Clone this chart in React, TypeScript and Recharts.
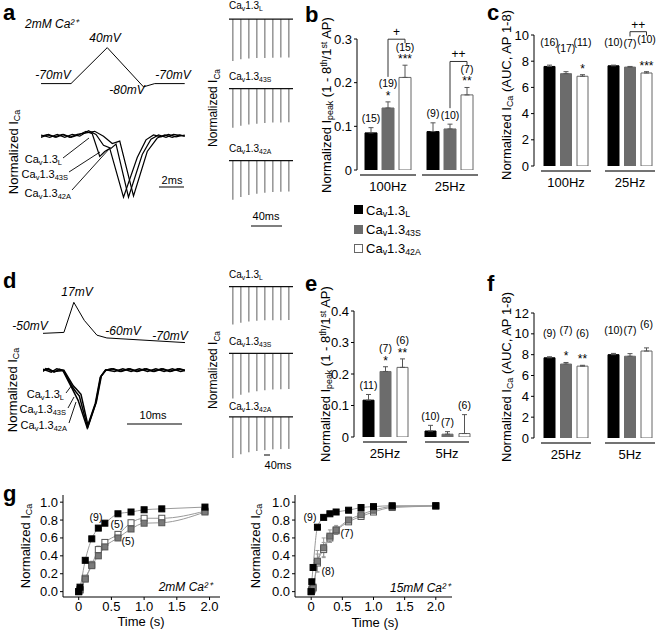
import React from 'react';
import {
  BarChart,
  Bar,
  XAxis,
  YAxis,
  ErrorBar,
  LabelList,
  LineChart,
  Line,
  ReferenceLine,
} from 'recharts';

const FONT = '"Liberation Sans", Arial, Helvetica, sans-serif';

// ---------- b: 1 - 8th/1st AP peak, 2 mM Ca ----------
const bGroups = ['100Hz', '25Hz'];
const bL = [0.085, 0.088];
const b43S = [0.142, 0.094];
const b42A = [0.212, 0.172];
const bErrL = [0.012, 0.02];
const bErr43S = [0.014, 0.011];
const bErr42A = [0.028, 0.017];
const bCounts = [['(15)', '(19)', '(15)'], ['(9)', '(10)', '(7)']];
const bStars = [['', '*', '***'], ['', '', '**']];
const bSig = ['+', '++'];

// ---------- c: AUC of AP 1-8, 2 mM Ca ----------
const cL = [7.6, 7.65];
const c43S = [7.05, 7.55];
const c42A = [6.85, 7.1];
const cErrL = [0.1, 0.05];
const cErr43S = [0.15, 0.05];
const cErr42A = [0.12, 0.1];
const cCounts = [['(16)', '(17)', '(11)'], ['(10)', '(7)', '(10)']];
const cStars = [['', '', '*'], ['', '', '***']];
const cSig = ['', '++'];

// ---------- e: 1 - 8th/1st AP peak, 15 mM Ca ----------
const eGroups = ['25Hz', '5Hz'];
const eL = [0.117, 0.019];
const e43S = [0.208, 0.009];
const e42A = [0.221, 0.011];
const eErrL = [0.018, 0.018];
const eErr43S = [0.015, 0.008];
const eErr42A = [0.027, 0.06];
const eCounts = [['(11)', '(7)', '(6)'], ['(10)', '(7)', '(6)']];
const eStars = [['', '*', '**'], ['', '', '']];
const eSig = ['', ''];

// ---------- f: AUC of AP 1-8, 15 mM Ca ----------
const fL = [7.7, 8.0];
const f43S = [7.1, 7.85];
const f42A = [6.9, 8.35];
const fErrL = [0.1, 0.12];
const fErr43S = [0.15, 0.25];
const fErr42A = [0.08, 0.3];
const fCounts = [['(9)', '(7)', '(6)'], ['(10)', '(7)', '(6)']];
const fStars = [['', '*', '**'], ['', '', '']];
const fSig = ['', ''];

// ---------- g: recovery time course ----------
const g2Time = [0, 0.02, 0.1, 0.2, 0.3, 0.4, 0.6, 0.8, 1.0, 1.27, 1.93];
const g2L = [0, 0.05, 0.35, 0.59, 0.71, 0.765, 0.87, 0.89, 0.915, 0.925, 0.945];
const g243S = [0, 0.02, 0.14, 0.29, 0.4, 0.5, 0.6, 0.7, 0.765, 0.77, 0.89];
const g242A = [0, 0.02, 0.15, 0.3, 0.47, 0.55, 0.64, 0.77, 0.82, 0.82, 0.9];
const g2ErrL = [0, 0, 0.01, 0.01, 0.01, 0.01, 0.01, 0.01, 0.01, 0.01, 0.01];
const g2Err43S = [0, 0, 0.02, 0.03, 0.03, 0.03, 0.03, 0.02, 0.02, 0.02, 0.01];
const g2Err42A = [0, 0, 0.02, 0.04, 0.04, 0.03, 0.03, 0.03, 0.02, 0.02, 0.01];

const g15Time = [0, 0.01, 0.03, 0.1, 0.2, 0.3, 0.4, 0.6, 0.8, 1.0, 1.3, 2.0];
const g15L = [0, 0.11, 0.27, 0.72, 0.83, 0.87, 0.89, 0.91, 0.94, 0.95, 0.96, 0.96];
const g1543S = [0, 0.02, 0.05, 0.34, 0.49, 0.62, 0.69, 0.8, 0.86, 0.91, 0.95, 0.96];
const g1542A = [0, 0.02, 0.04, 0.32, 0.47, 0.6, 0.68, 0.78, 0.84, 0.89, 0.94, 0.955];
const g15ErrL = [0, 0.01, 0.02, 0.02, 0.01, 0.01, 0.01, 0.01, 0.01, 0.01, 0.01, 0.01];
const g15Err43S = [0, 0.01, 0.02, 0.12, 0.11, 0.07, 0.05, 0.03, 0.02, 0.02, 0.01, 0.01];
const g15Err42A = [0, 0.01, 0.02, 0.1, 0.08, 0.05, 0.04, 0.03, 0.02, 0.02, 0.01, 0.01];
const gYTicks = [0, 0.2, 0.4, 0.6, 0.8, 1.0];
const gXTicks = [0, 0.5, 1, 1.5, 2];

// ---------- AP trains (peak of each AP, normalized to the 1st) ----------
const trainAP = ['1', '2', '3', '4', '5', '6', '7', '8'];
const train100L = [-1, -0.96, -0.94, -0.93, -0.925, -0.92, -0.915, -0.915];
const train10043S = [-1, -0.95, -0.92, -0.9, -0.88, -0.87, -0.865, -0.86];
const train10042A = [-1, -0.93, -0.88, -0.85, -0.82, -0.8, -0.795, -0.79];
const train25L = [-1, -0.95, -0.92, -0.9, -0.89, -0.885, -0.885, -0.88];
const train2543S = [-1, -0.92, -0.87, -0.84, -0.82, -0.8, -0.795, -0.79];
const train2542A = [-1, -0.91, -0.86, -0.83, -0.81, -0.79, -0.785, -0.78];

// ---------- voltage protocols (ms, mV) ----------
const aProtoT = [0, 2.4, 5.3, 8.2, 9.1, 11.5];
const aProtoV = [-70, -70, 40, -80, -70, -70];
const dProtoT = [0, 3.8, 5.6, 7.5, 9.8, 11.6, 25.8];
const dProtoV = [-50, -48, 17, -22, -54, -60, -70];

// ---------- single AP currents (ms, normalized) ----------
const aTraceLT = [0, 0.6, 1.2, 1.8, 2.4, 3.0, 3.6, 4.1, 4.7, 5.1, 5.5, 6.6, 7.7, 8.4, 9.0, 9.6, 10.2, 10.8, 11.5];
const aTraceLV = [0, 0.03, -0.02, 0.03, -0.02, 0.02, 0.08, 0.04, -0.33, -0.25, -0.2, -1.0, -0.35, -0.06, 0.02, -0.01, 0.03, -0.01, 0.02];
const aTrace43ST = [0, 0.7, 1.3, 1.9, 2.5, 3.1, 3.8, 4.4, 5.0, 5.6, 6.0, 7.0, 8.1, 8.8, 9.4, 10.0, 10.6, 11.5];
const aTrace43SV = [0.02, -0.02, 0.03, -0.02, 0.03, 0, 0.09, 0.03, -0.15, -0.2, -0.13, -1.0, -0.3, -0.05, 0.02, -0.02, 0.03, 0];
const aTrace42AT = [0, 0.5, 1.1, 1.7, 2.3, 2.9, 3.5, 4.3, 5.0, 5.7, 6.3, 7.4, 8.5, 9.3, 9.9, 10.5, 11.1, 11.5];
const aTrace42AV = [-0.02, 0.02, -0.01, 0.03, -0.02, 0.03, 0.05, 0.08, 0, -0.12, -0.08, -0.98, -0.25, -0.03, 0.02, -0.02, 0.02, 0];

const dTraceLT = [0, 1, 2, 3, 3.6, 5.3, 6.4, 8.0, 9.5, 10.4, 11.3, 12.5, 14, 15.5, 17, 18.5, 20, 21.5, 23, 24.5, 25.8];
const dTraceLV = [0, 0.03, -0.03, 0.02, 0, -0.32, -0.53, -1.0, -0.58, -0.12, 0, 0.03, -0.02, 0.03, -0.02, 0.03, -0.02, 0.03, -0.02, 0.03, 0];
const dTrace43ST = [0, 1.5, 2.5, 3.7, 5.4, 6.0, 6.6, 8.1, 9.6, 10.5, 11.4, 13, 14.5, 16, 17.5, 19, 20.5, 22, 23.5, 25, 25.8];
const dTrace43SV = [0.02, -0.03, 0.03, 0, -0.3, -0.38, -0.45, -1.0, -0.57, -0.11, 0.01, -0.02, 0.03, -0.02, 0.03, -0.02, 0.03, -0.02, 0.03, -0.02, 0];
const dTrace42AT = [0, 0.5, 2, 3.8, 5.5, 6.1, 6.9, 8.2, 9.7, 10.6, 11.5, 12.8, 14.2, 15.8, 17.2, 18.8, 20.2, 21.8, 23.2, 24.8, 25.8];
const dTrace42AV = [-0.02, 0.03, -0.02, 0, -0.27, -0.33, -0.42, -0.98, -0.55, -0.1, 0.01, 0.03, -0.02, 0.03, -0.02, 0.03, -0.02, 0.03, -0.02, 0.03, 0];

const pts = (t: number[], v: number[], e?: number[]) =>
  t.map((x, i) => ({ t: x, v: v[i], e: e ? e[i] : 0 }));

const FILLS = ['#000', '#6c6c6c', '#fff'];
const KEYS = ['L', 'S', 'A'];

function Sub({ children }: { children: React.ReactNode }) {
  return <span style={{ fontSize: '0.68em', verticalAlign: '-0.3em', lineHeight: 0 }}>{children}</span>;
}
function Sup({ children }: { children: React.ReactNode }) {
  return <span style={{ fontSize: '0.68em', verticalAlign: '0.45em', lineHeight: 0 }}>{children}</span>;
}
function Cav({ v }: { v: string }) {
  return (
    <>
      Ca<Sub>v</Sub>1.3<Sub>{v}</Sub>
    </>
  );
}

function T({ x, y, s = 12, i, b, a = 'l', children }: any) {
  const tx = a === 'c' ? '-50%' : a === 'r' ? '-100%' : '0';
  return (
    <div
      style={{
        position: 'absolute', left: x, top: y, transform: `translate(${tx},-50%)`,
        fontSize: s, fontStyle: i ? 'italic' : 'normal', fontWeight: b ? 'bold' : 'normal',
        whiteSpace: 'nowrap', lineHeight: 1.15,
      }}
    >
      {children}
    </div>
  );
}

function VT({ x, y, s = 13, children }: any) {
  return (
    <div
      style={{
        position: 'absolute', left: x, top: y, transform: 'translate(-50%,-50%) rotate(-90deg)',
        fontSize: s, whiteSpace: 'nowrap', lineHeight: 1.15,
      }}
    >
      {children}
    </div>
  );
}

function BarPanel(p: any) {
  const rows = p.groups.map((g: string, i: number) => ({
    g, i,
    L: p.vals[0][i], S: p.vals[1][i], A: p.vals[2][i],
    eL: [0, p.errs[0][i]], eS: [0, p.errs[1][i]], eA: [0, p.errs[2][i]],
  }));
  const step = p.barSize + p.gap;
  const lift = p.lift || 0;

  const anno = (k: number) => (props: any) => {
    const vb = props.viewBox || props;
    const i = props.value;
    const v = p.vals[k][i];
    if (!vb || vb.height == null || !v) return null;
    const ppu = vb.height / v;
    const cx = vb.x + vb.width / 2;
    const top = vb.y - p.errs[k][i] * ppu;
    const star = p.stars[i][k];
    const countC = (star ? top - 18 : top - 9) - lift;
    const out: any[] = [];
    if (star) {
      out.push(<text key="s" x={cx} y={top - 2} textAnchor="middle" fontSize={12} fontFamily={FONT}>{star}</text>);
    }
    out.push(
      <text key="n" x={cx} y={countC + 3.5} textAnchor="middle" fontSize={10.5} fontFamily={FONT}>
        {p.counts[i][k]}
      </text>,
    );
    if (k === 2 && p.sig[i]) {
      const base = vb.y + vb.height;
      const gTop = base - (p.vals[1][i] + p.errs[1][i]) * ppu;
      const gCount = gTop - (p.stars[i][1] ? 18 : 9) - lift;
      const gx = cx - step;
      const by = countC - 8;
      out.push(
        <path key="b" d={`M${gx},${gCount - 7} V${by} H${cx} V${by + 4}`} fill="none" stroke="#333" strokeWidth={1} />,
      );
      out.push(
        <text key="p" x={(gx + cx) / 2} y={by - 3} textAnchor="middle" fontSize={12} fontFamily={FONT}>
          {p.sig[i]}
        </text>,
      );
    }
    return <g>{out}</g>;
  };

  const groupTick = (props: any) => {
    const { x, y, payload } = props;
    return (
      <g>
        <line x1={x - p.half} x2={x + p.half} y1={y + 5} y2={y + 5} stroke="#444" strokeWidth={1.3} />
        <text x={x} y={y + 20.5} textAnchor="middle" fontSize={13} fontFamily={FONT} fill="#000">
          {payload.value}
        </text>
      </g>
    );
  };

  return (
    <div style={{ position: 'absolute', left: p.left, top: p.top }}>
      <BarChart
        width={p.width}
        height={p.height}
        data={rows}
        margin={{ top: p.mTop, right: p.width - p.yW - p.plotW, left: 0, bottom: 0 }}
        barGap={p.gap}
        barCategoryGap={0}
      >
        <XAxis
          dataKey="g"
          axisLine={false}
          tickLine={false}
          tickSize={0}
          tickMargin={0}
          height={24}
          interval={0}
          tick={groupTick}
        />
        <YAxis
          width={p.yW}
          domain={p.domain}
          ticks={p.ticks}
          interval={0}
          allowDataOverflow
          tickFormatter={p.fmt}
          axisLine={{ stroke: '#000' }}
          tickLine={{ stroke: '#000' }}
          tickSize={3}
          tick={{ fontSize: 13, fill: '#000', fontFamily: FONT }}
        />
        {KEYS.map((key, k) => (
          <Bar
            key={key}
            dataKey={key}
            barSize={p.barSize}
            fill={FILLS[k]}
            stroke={k === 2 ? '#666' : FILLS[k]}
            strokeWidth={1}
            isAnimationActive={false}
          >
            <ErrorBar dataKey={`e${key}`} width={2.5} stroke="#555" strokeWidth={1} direction="y" />
            <LabelList dataKey="i" content={anno(k)} />
          </Bar>
        ))}
      </BarChart>
    </div>
  );
}

function Train({ base, peak, vals }: any) {
  const ppu = peak - base;
  const lo = -1.05;
  const hi = 0.12;
  const rows = trainAP.map((ap, i) => ({ ap, v: vals[i] }));
  return (
    <div style={{ position: 'absolute', left: 229, top: base - hi * ppu }}>
      <BarChart width={64} height={(hi - lo) * ppu} data={rows} margin={{ top: 0, right: 0, left: 0, bottom: 0 }}>
        <XAxis dataKey="ap" hide />
        <YAxis hide domain={[lo, hi]} allowDataOverflow />
        <ReferenceLine y={0} stroke="#111" strokeWidth={1.3} />
        <Bar dataKey="v" barSize={1.6} fill="#9a9a9a" isAnimationActive={false} />
      </BarChart>
    </div>
  );
}

function Traces({ left, width, zeroY, ppu, domX, domY, series, sw = 1 }: any) {
  const h = (domY[1] - domY[0]) * ppu;
  return (
    <div style={{ position: 'absolute', left, top: zeroY - domY[1] * ppu }}>
      <LineChart width={width} height={h} margin={{ top: 0, right: 0, left: 0, bottom: 0 }}>
        <XAxis type="number" dataKey="t" domain={domX} hide allowDataOverflow />
        <YAxis type="number" domain={domY} hide allowDataOverflow />
        {series.map((s: any, i: number) => (
          <Line
            key={i}
            data={s}
            dataKey="v"
            type="linear"
            stroke="#000"
            strokeWidth={sw}
            dot={false}
            isAnimationActive={false}
          />
        ))}
      </LineChart>
    </div>
  );
}

const sq = (fill: string, stroke: string) => (props: any) => {
  const { cx, cy, index } = props;
  if (cx == null || cy == null) return <g key={`d${index}`} />;
  return (
    <rect key={`d${index}`} x={cx - 3} y={cy - 3} width={6} height={6} fill={fill} stroke={stroke} strokeWidth={1} />
  );
};

const yTick = (props: any) => (
  <text x={props.x} y={props.y} dy={4.5} textAnchor="end" fontSize={13} fontFamily={FONT} fill="#000">
    {Number(props.payload.value).toFixed(1)}
  </text>
);

function TimePanel({ left, domX, sets }: any) {
  const plotW = 157;
  return (
    <div style={{ position: 'absolute', left, top: 485 }}>
      <LineChart width={63 + plotW + 5} height={145} margin={{ top: 10, right: 5, left: 0, bottom: 0 }}>
        <XAxis
          type="number"
          dataKey="t"
          domain={domX}
          allowDataOverflow
          ticks={gXTicks}
          interval={0}
          tickFormatter={(v: number) => (v === 0 ? '0' : v.toFixed(1))}
          height={33}
          axisLine={{ stroke: '#000' }}
          tickLine={{ stroke: '#000' }}
          tickSize={3}
          tick={{ fontSize: 13, fill: '#000', fontFamily: FONT }}
        />
        <YAxis
          type="number"
          width={63}
          domain={[-0.06, 1.08]}
          ticks={gYTicks}
          interval={0}
          minTickGap={0}
          axisLine={{ stroke: '#000' }}
          tickLine={{ stroke: '#000' }}
          tickSize={3}
          tick={yTick}
        />
        {sets.map((s: any, i: number) => (
          <Line
            key={i}
            data={s.data}
            dataKey="v"
            type="monotone"
            stroke="#9a9a9a"
            strokeWidth={1}
            dot={sq(s.fill, s.stroke)}
            isAnimationActive={false}
          >
            <ErrorBar dataKey="e" width={2} stroke="#9a9a9a" strokeWidth={1} direction="y" />
          </Line>
        ))}
      </LineChart>
    </div>
  );
}

export default function App() {
  const g2 = [
    { data: pts(g2Time, g242A, g2Err42A), fill: '#fff', stroke: '#555' },
    { data: pts(g2Time, g243S, g2Err43S), fill: '#7a7a7a', stroke: '#555' },
    { data: pts(g2Time, g2L, g2ErrL), fill: '#000', stroke: '#000' },
  ];
  const g15 = [
    { data: pts(g15Time, g1542A, g15Err42A), fill: '#fff', stroke: '#555' },
    { data: pts(g15Time, g1543S, g15Err43S), fill: '#7a7a7a', stroke: '#555' },
    { data: pts(g15Time, g15L, g15ErrL), fill: '#000', stroke: '#000' },
  ];

  return (
    <div
      style={{
        position: 'fixed', left: 0, top: 0, width: 656, height: 630, overflow: 'hidden',
        background: '#fff', fontFamily: FONT, color: '#000',
      }}
    >
      {/* a: protocol + currents */}
      <Traces left={41} width={144} zeroY={84 - 70 * 0.327} ppu={0.327} domX={[0, 11.52]} domY={[-85, 45]}
        series={[pts(aProtoT, aProtoV)]} />
      <Traces left={41} width={144} zeroY={136} ppu={61} domX={[0, 11.52]} domY={[-1.1, 0.2]} sw={1.2}
        series={[pts(aTraceLT, aTraceLV), pts(aTrace43ST, aTrace43SV), pts(aTrace42AT, aTrace42AV)]} />
      <Train base={19} peak={61} vals={train100L} />
      <Train base={89} peak={128} vals={train10043S} />
      <Train base={161} peak={200} vals={train10042A} />

      {/* d: protocol + currents */}
      <Traces left={43} width={142} zeroY={302 + 17 * 0.463} ppu={0.463} domX={[0, 25.8]} domY={[-75, 22]}
        series={[pts(dProtoT, dProtoV)]} />
      <Traces left={43} width={142} zeroY={370} ppu={57} domX={[0, 25.8]} domY={[-1.1, 0.2]} sw={1.5}
        series={[pts(dTraceLT, dTraceLV), pts(dTrace43ST, dTrace43SV), pts(dTrace42AT, dTrace42AV)]} />
      <Train base={287} peak={325} vals={train25L} />
      <Train base={353} peak={398} vals={train2543S} />
      <Train base={417} peak={458} vals={train2542A} />

      <BarPanel left={300} top={0} width={190} height={194} mTop={39} yW={57} plotW={124}
        domain={[0, 0.3]} ticks={[0, 0.1, 0.2, 0.3]} fmt={(v: number) => (v === 0 ? '0' : String(v))}
        groups={bGroups} vals={[bL, b43S, b42A]} errs={[bErrL, bErr43S, bErr42A]}
        counts={bCounts} stars={bStars} sig={bSig} barSize={12} gap={5} half={28} />
      <BarPanel left={480} top={0} width={182} height={190} mTop={35} yW={54} plotW={128}
        domain={[0, 10]} ticks={[0, 2, 4, 6, 8, 10]} fmt={(v: number) => String(v)}
        groups={bGroups} vals={[cL, c43S, c42A]} errs={[cErrL, cErr43S, cErr42A]}
        counts={cCounts} stars={cStars} sig={cSig} barSize={11} gap={5.5} half={25} lift={14} />
      <BarPanel left={300} top={270} width={182} height={191} mTop={41} yW={54} plotW={124}
        domain={[0, 0.4]} ticks={[0, 0.1, 0.2, 0.3, 0.4]} fmt={(v: number) => (v === 0 ? '0' : String(v))}
        groups={eGroups} vals={[eL, e43S, e42A]} errs={[eErrL, eErr43S, eErr42A]}
        counts={eCounts} stars={eStars} sig={eSig} barSize={11} gap={6} half={22} />
      <BarPanel left={480} top={270} width={182} height={192} mTop={43} yW={54} plotW={128}
        domain={[0, 12]} ticks={[0, 2, 4, 6, 8, 10, 12]} fmt={(v: number) => String(v)}
        groups={eGroups} vals={[fL, f43S, f42A]} errs={[fErrL, fErr43S, fErr42A]}
        counts={fCounts} stars={fStars} sig={fSig} barSize={11} gap={5.5} half={25} lift={14} />

      <TimePanel left={0} domX={[-0.24, 2.16]} sets={g2} />
      <TimePanel left={232} domX={[-0.26, 2.26]} sets={g15} />

      {/* decorations: pointer lines and scale bars */}
      <svg width={656} height={630} style={{ position: 'absolute', left: 0, top: 0, pointerEvents: 'none' }}>
        <g stroke="#000" strokeWidth={0.9}>
          <line x1={63} y1={158} x2={89} y2={138} />
          <line x1={69} y1={172} x2={100} y2={152} />
          <line x1={72} y1={190} x2={110} y2={148} />
          <line x1={66} y1={393} x2={72} y2={385} />
          <line x1={68} y1={408} x2={74} y2={397} />
          <line x1={69} y1={423} x2={76} y2={402} />
        </g>
        <g stroke="#555" strokeWidth={1.5}>
          <line x1={159} y1={187} x2={184} y2={187} />
          <line x1={127} y1={424} x2={182} y2={424} />
          <line x1={251} y1={226} x2={282} y2={226} />
          <line x1={264} y1={455} x2={270} y2={455} />
        </g>
      </svg>

      {/* panel letters */}
      <T x={3} y={13} s={22} b>a</T>
      <T x={305} y={15} s={22} b>b</T>
      <T x={487} y={13} s={22} b>c</T>
      <T x={3} y={281} s={22} b>d</T>
      <T x={305} y={284} s={22} b>e</T>
      <T x={487} y={284} s={22} b>f</T>
      <T x={3} y={494} s={22} b>g</T>

      {/* a texts */}
      <T x={25} y={25} i>2mM Ca²⁺</T>
      <T x={105} y={39} a="c" i>40mV</T>
      <T x={53} y={76} a="c" i>-70mV</T>
      <T x={173} y={76} a="c" i>-70mV</T>
      <T x={127} y={91} a="c" i>-80mV</T>
      <VT x={14} y={152}>Normalized I<Sub>Ca</Sub></VT>
      <T x={62} y={159} a="r" s={11}><Cav v="L" /></T>
      <T x={68} y={174} a="r" s={11}><Cav v="43S" /></T>
      <T x={71} y={193} a="r" s={11}><Cav v="42A" /></T>
      <T x={172} y={180} a="c" s={11}>2ms</T>
      <VT x={214} y={108} s={12}>Normalized I<Sub>Ca</Sub></VT>
      <T x={229} y={6} s={10}><Cav v="L" /></T>
      <T x={229} y={77} s={10}><Cav v="43S" /></T>
      <T x={229} y={149} s={10}><Cav v="42A" /></T>
      <T x={266} y={216} a="c" s={11}>40ms</T>

      {/* d texts */}
      <T x={77} y={293} a="c" i>17mV</T>
      <T x={30} y={327} a="c" i>-50mV</T>
      <T x={123} y={332} a="c" i>-60mV</T>
      <T x={170} y={337} a="c" i>-70mV</T>
      <VT x={13} y={390}>Normalized I<Sub>Ca</Sub></VT>
      <T x={64} y={394} a="r" s={11}><Cav v="L" /></T>
      <T x={66} y={409} a="r" s={11}><Cav v="43S" /></T>
      <T x={67} y={425} a="r" s={11}><Cav v="42A" /></T>
      <T x={153} y={415} a="c" s={11}>10ms</T>
      <VT x={214} y={370} s={12}>Normalized I<Sub>Ca</Sub></VT>
      <T x={229} y={275} s={10}><Cav v="L" /></T>
      <T x={229} y={342} s={10}><Cav v="43S" /></T>
      <T x={229} y={407} s={10}><Cav v="42A" /></T>
      <T x={278} y={465} a="c" s={11}>40ms</T>

      {/* legend */}
      {[0, 1, 2].map((k) => (
        <div key={k} style={{
          position: 'absolute', left: 354, top: 205 + k * 19.5, width: 9, height: 9,
          background: FILLS[k], border: k === 2 ? '1px solid #666' : 'none', boxSizing: 'border-box',
        }} />
      ))}
      <T x={366} y={211} s={13}><Cav v="L" /></T>
      <T x={366} y={230} s={13}><Cav v="43S" /></T>
      <T x={366} y={249} s={13}><Cav v="42A" /></T>

      {/* bar panel y labels */}
      <VT x={327} y={105}>Normalized I<Sub>peak</Sub> (1 - 8<Sup>th</Sup>/1<Sup>st</Sup> AP)</VT>
      <VT x={507} y={95}>Normalized I<Sub>Ca</Sub> (AUC, AP 1-8)</VT>
      <VT x={326} y={374}>Normalized I<Sub>peak</Sub> (1 - 8<Sup>th</Sup>/1<Sup>st</Sup> AP)</VT>
      <VT x={507} y={377}>Normalized I<Sub>Ca</Sub> (AUC, AP 1-8)</VT>

      {/* g texts */}
      <VT x={26} y={546}>Normalized I<Sub>Ca</Sub></VT>
      <VT x={256} y={546}>Normalized I<Sub>Ca</Sub></VT>
      <T x={141} y={622} a="c" s={13}>Time (s)</T>
      <T x={375} y={623} a="c" s={13}>Time (s)</T>
      <T x={212} y={588} a="r" i s={12}>2mM Ca²⁺</T>
      <T x={450} y={589} a="r" i s={12}>15mM Ca²⁺</T>
      <T x={96} y={517} a="c" s={10.5}>(9)</T>
      <T x={117} y={524} a="c" s={10.5}>(5)</T>
      <T x={128} y={541} a="c" s={10.5}>(5)</T>
      <T x={310} y={517} a="c" s={10.5}>(9)</T>
      <T x={347} y={533} a="c" s={10.5}>(7)</T>
      <T x={328} y={571} a="c" s={10.5}>(8)</T>
    </div>
  );
}
